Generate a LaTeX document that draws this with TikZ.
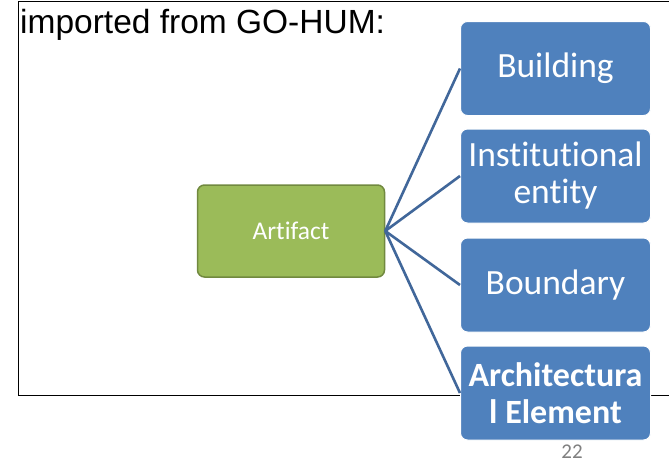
\documentclass[tikz,border=0pt]{standalone}
\usepackage{fontspec}
\setmainfont[Ligatures=NoCommon]{Carlito}
\newfontfamily\arialf{Liberation Sans}
\definecolor{boxblue}{HTML}{4F81BD}
\definecolor{boxgreen}{HTML}{9BBB59}
\definecolor{greenedge}{HTML}{71893F}
\definecolor{linkblue}{HTML}{41679A}
\definecolor{pagegray}{HTML}{808080}
\begin{document}
\begin{tikzpicture}[x=1pt,y=-1pt,
  bluebox/.style={draw=white, line width=1pt, fill=boxblue, rounded corners=7pt, minimum width=190pt, minimum height=94pt, text=white, align=center, font=\fontsize{35.5}{37}\selectfont, inner sep=0pt},
  greenbox/.style={draw=greenedge, line width=1.5pt, fill=boxgreen, rounded corners=7pt, minimum width=187pt, minimum height=92pt, text=white, font=\fontsize{25.5}{28}\selectfont, inner sep=0pt},
  link/.style={draw=linkblue, line width=2.6pt}]
\useasboundingbox (0,0) rectangle (669,463);
\fill[white] (0,0) rectangle (669,463);
\begin{scope}
\clip (0,0) rectangle (669,463);
\draw[black, line width=0.9pt] (680,1.5) -- (18.5,1.5) -- (18.5,395) -- (680,395);
\end{scope}
\node[anchor=base west, font=\arialf\fontsize{33.5}{36}\selectfont, inner sep=0pt] (title) at (20,33) {imported from GO-HUM:};
\node[greenbox] (art) at (291,231) {Artifact};
\node[bluebox] (b1) at (555.5,68.5) {Building};
\node[bluebox] (b2) at (555.5,176) {Institutional\\entity};
\node[bluebox] (b3) at (555.5,285) {Boundary};
\node[bluebox, font=\bfseries\fontsize{34}{37}\selectfont] (b4) at (555.5,393) {Architectura\\l Element};
\draw[link] (art.east) -- (b1.west);
\draw[link] (art.east) -- (b2.west);
\draw[link] (art.east) -- (b3.west);
\draw[link] (art.east) -- (b4.west);
\node[text=pagegray, font=\fontsize{21}{23}\selectfont, anchor=base, inner sep=0pt] (pg) at (572,458) {22};
\end{tikzpicture}
\end{document}
